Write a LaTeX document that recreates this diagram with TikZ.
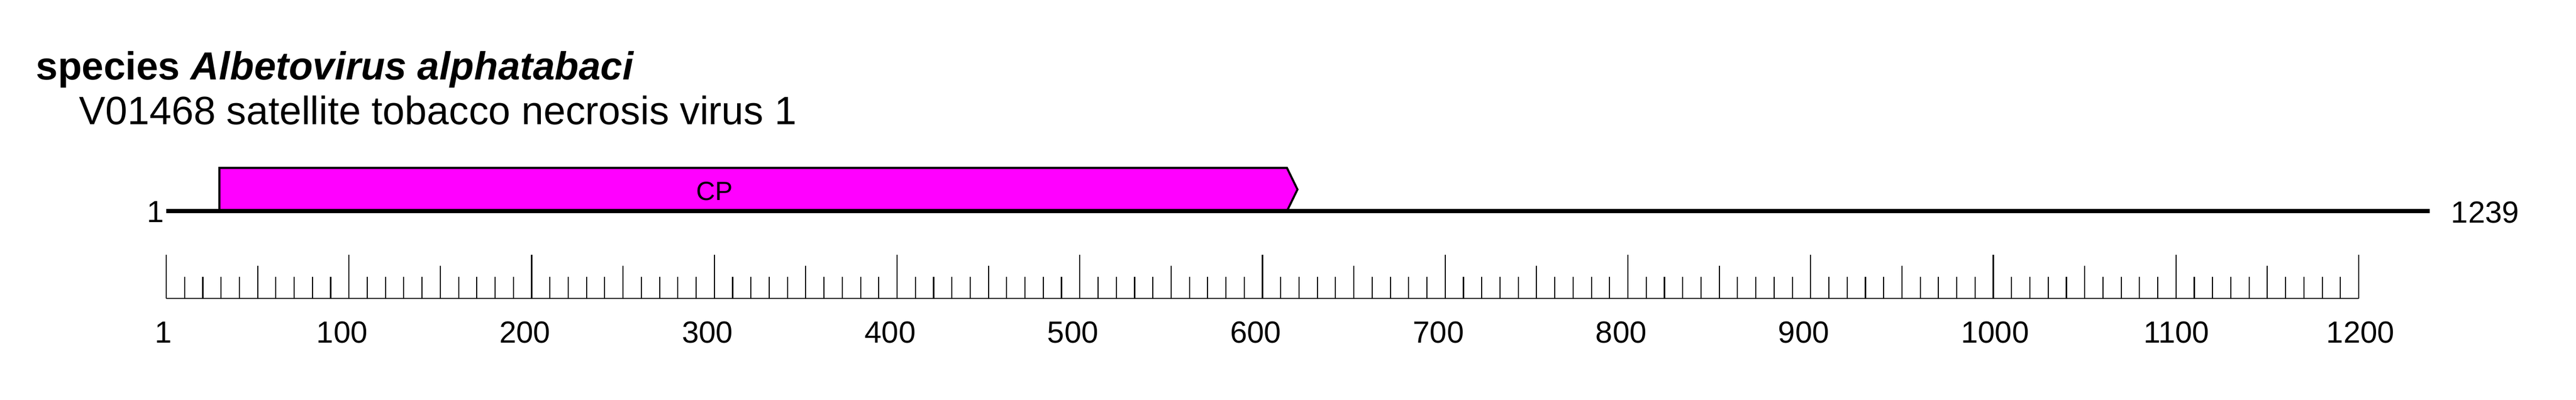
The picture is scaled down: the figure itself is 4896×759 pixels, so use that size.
\documentclass[tikz,border=0pt]{standalone}
\usepackage{fontspec}
\setmainfont{Liberation Sans}
\definecolor{cpmagenta}{RGB}{255,0,255}

\tikzset{
  genome/.style={line width=2.3pt},
  cdsbox/.style={draw=black, line width=1.1pt, fill=cpmagenta, line join=miter},
  rulerline/.style={line width=0.75pt},
  rulertick/.style={line width=0.6pt},
  numlabel/.style={inner sep=0pt, font=\fontsize{16.5}{18}\selectfont},
  headline/.style={anchor=base west, inner sep=0pt, font=\fontsize{21.4}{24}\selectfont}
}

\begin{document}
\begin{tikzpicture}[x=0.01cm, y=-0.01cm]
  \useasboundingbox (0,0) rectangle (4896,759);

  \node[headline, font=\fontsize{21.2}{24}\selectfont\bfseries] (title) at (68,151) {species \textit{Albetovirus alphatabaci}};
  \node[headline] (accession) at (150,236) {V01468 satellite tobacco necrosis virus 1};

  % CP gene
  \draw[cdsbox] (417,319) -- (2446,319) -- (2466,360) -- (2446,401) -- (417,401) -- cycle;
  \node[anchor=base, inner sep=0pt, font=\fontsize{14.2}{16}\selectfont] (cp) at (1358,380) {CP};

  % genome line
  \coordinate (gstart) at (316,401);
  \coordinate (gend) at (4618,401);
  \draw[genome] (gstart) -- (gend);
  \node[numlabel, anchor=base east] (lstart) at (312,422) {1};
  \node[numlabel, anchor=base west] (lend) at (4658,423) {1239};

  % ruler
  \coordinate (rstart) at (316,567);
  \coordinate (rend) at (4483,567);
  \draw[rulerline] (rstart) -- (rend);
  \foreach \i in {0,...,120} {
    \pgfmathsetmacro\tx{316+34.725*\i}
    \pgfmathtruncatemacro\m{mod(\i,10)}
    \pgfmathtruncatemacro\f{mod(\i,5)}
    \ifnum\m=0 \def\ty{484}\else\ifnum\f=0 \def\ty{505}\else\def\ty{526}\fi\fi
    \draw[rulertick] (\tx,567) -- (\tx,\ty);
  }
  \node[numlabel, anchor=base west] (n1) at (294,651) {1};
  \foreach \k in {1,...,12} {
    \pgfmathsetmacro\tx{316+347.25*\k-62}
    \node[numlabel, anchor=base west] (n\k00) at (\tx,651) {\k00};
  }
\end{tikzpicture}
\end{document}
